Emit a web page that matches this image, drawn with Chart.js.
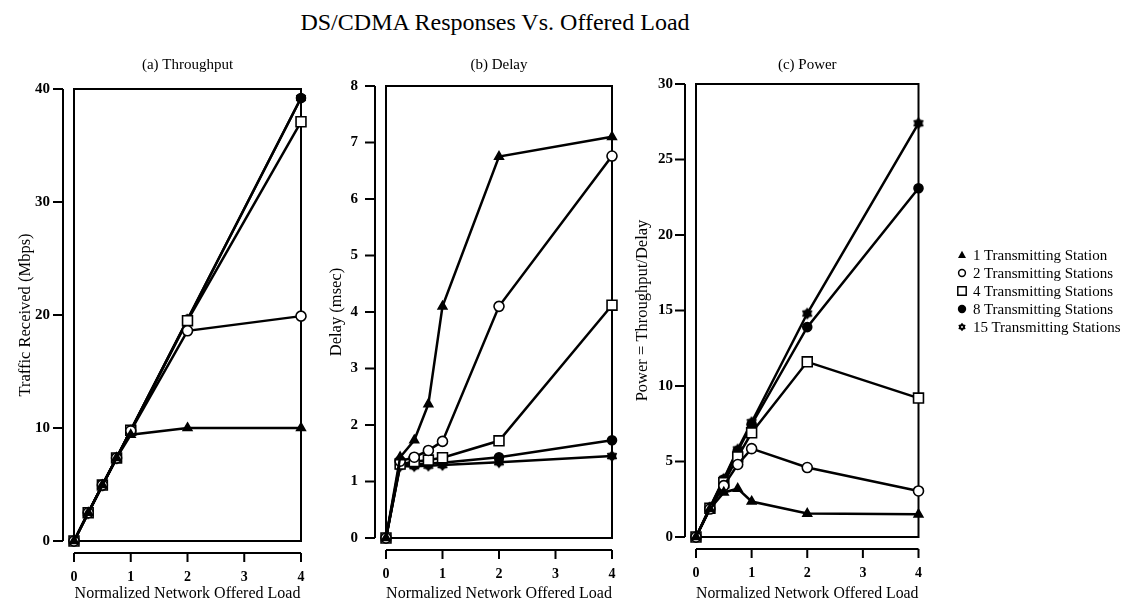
<!DOCTYPE html>
<html>
<head>
<meta charset="utf-8">
<script src="https://cdn.jsdelivr.net/npm/chart.js@4"></script>
<style>
body { margin: 0; background: #fff; width: 1138px; height: 603px; overflow: hidden; position: relative; font-family: "Liberation Serif", serif; color: #000; }
canvas.panel { position: absolute; top: 0; }
#title { position: absolute; left: 295px; width: 400px; top: 8px; text-align: center; font-size: 24px; line-height: 28px; white-space: nowrap; }
#legend { position: absolute; left: 956px; top: 246px; font-size: 15px; line-height: 18px; }
#legend div { height: 18px; white-space: nowrap; }
#legend canvas { vertical-align: -1px; margin-right: 5px; }
</style>
</head>
<body>
<div id="title">DS/CDMA Responses Vs. Offered Load</div>
<canvas class="panel" id="a" width="360" height="603" style="left:0px"></canvas>
<canvas class="panel" id="b" width="340" height="603" style="left:320px"></canvas>
<canvas class="panel" id="c" width="320" height="603" style="left:630px"></canvas>
<div id="legend"></div>
<script>
// offered load (x values) shared by all panels
var loads = [0, 0.25, 0.5, 0.75, 1, 2, 4];
var stations = ['1 Transmitting Station', '2 Transmitting Stations', '4 Transmitting Stations',
                '8 Transmitting Stations', '15 Transmitting Stations'];

// (a) throughput, Mbps
var thru1  = [0, 2.5, 4.95, 7.35, 9.4, 10.0, 10.0];
var thru2  = [0, 2.5, 4.95, 7.35, 9.75, 18.6, 19.9];
var thru4  = [0, 2.5, 4.95, 7.35, 9.8, 19.5, 37.1];
var thru8  = [0, 2.5, 4.95, 7.35, 9.8, 19.6, 39.2];
var thru15 = [0, 2.45, 4.9, 7.3, 9.8, 19.6, 39.2];

// (b) delay, msec
var delay1  = [0, 1.43, 1.73, 2.37, 4.1, 6.75, 7.1];
var delay2  = [0, 1.36, 1.43, 1.55, 1.71, 4.1, 6.76];
var delay4  = [0, 1.31, 1.35, 1.38, 1.42, 1.72, 4.12];
var delay8  = [0, 1.29, 1.3, 1.32, 1.33, 1.43, 1.73];
var delay15 = [0, 1.27, 1.27, 1.28, 1.29, 1.34, 1.45];

// (c) power = throughput / delay
var power1  = [0, 1.85, 2.95, 3.2, 2.35, 1.55, 1.5];
var power2  = [0, 1.85, 3.4, 4.8, 5.85, 4.6, 3.05];
var power4  = [0, 1.9, 3.6, 5.3, 6.9, 11.6, 9.2];
var power8  = [0, 1.95, 3.8, 5.7, 7.45, 13.9, 23.1];
var power15 = [0, 1.95, 3.85, 5.8, 7.6, 14.8, 27.4];

Chart.defaults.font.family = '"Liberation Serif", serif';
Chart.defaults.color = '#000';

function drawMarker(g, kind, cx, cy, r, hole) {
    g.fillStyle = '#000';
    g.strokeStyle = '#000';
    g.lineWidth = 1.5;
    g.beginPath();
    if (kind == 'triangle') {
        g.moveTo(cx, cy - r);
        g.lineTo(cx + r * 0.95, cy + r * 0.7);
        g.lineTo(cx - r * 0.95, cy + r * 0.7);
        g.closePath();
        g.fill();
    } else if (kind == 'circle') {
        g.arc(cx, cy, r - 0.8, 0, Math.PI * 2);
        g.stroke();
    } else if (kind == 'rect') {
        g.rect(cx - r + 0.8, cy - r + 0.8, 2 * r - 1.6, 2 * r - 1.6);
        g.stroke();
    } else if (kind == 'dot') {
        g.arc(cx, cy, r, 0, Math.PI * 2);
        g.fill();
    } else {
        for (var k = 0; k < 12; k++) {
            var ang = -Math.PI / 2 + k * Math.PI / 6;
            var rr = k % 2 ? r * 0.68 : r;
            g.lineTo(cx + rr * Math.cos(ang), cy + rr * Math.sin(ang));
        }
        g.closePath();
        g.fill();
        if (hole) {
            g.fillStyle = '#fff';
            g.beginPath();
            g.arc(cx, cy, r * 0.22, 0, Math.PI * 2);
            g.fill();
        }
    }
}

function starImage(r) {
    var c = document.createElement('canvas');
    c.width = c.height = 2 * r + 2;
    drawMarker(c.getContext('2d'), 'star', r + 1, r + 1, r, false);
    return c;
}

var star = starImage(6);
var markers = [
    {pointStyle: 'triangle', pointRadius: 5, pointBackgroundColor: '#000'},
    {pointStyle: 'circle', pointRadius: 5, pointBackgroundColor: '#fff'},
    {pointStyle: 'rect', pointRadius: 7, pointBackgroundColor: '#fff'},
    {pointStyle: 'circle', pointRadius: 4.5, pointBackgroundColor: '#000'},
    {pointStyle: star, pointRadius: 6, pointBackgroundColor: '#000'}
];
var legendKinds = ['triangle', 'circle', 'rect', 'dot', 'star'];

// box round the plot, axes drawn a little away from it
var frame = {
    id: 'frame',
    beforeDatasetsDraw: function (chart) {
        var ctx = chart.ctx, a = chart.chartArea, x = chart.scales.x, y = chart.scales.y;
        ctx.save();
        ctx.strokeStyle = '#000';
        ctx.lineWidth = 2;
        ctx.strokeRect(a.left, a.top, a.right - a.left, a.bottom - a.top);
        var ax = a.left - 11, ay = a.bottom + 12;
        ctx.beginPath();
        ctx.moveTo(ax, y.getPixelForValue(y.max));
        ctx.lineTo(ax, y.getPixelForValue(y.min));
        y.ticks.forEach(function (t) {
            var py = y.getPixelForValue(t.value);
            ctx.moveTo(ax, py);
            ctx.lineTo(ax - 10, py);
        });
        ctx.moveTo(x.getPixelForValue(x.min), ay);
        ctx.lineTo(x.getPixelForValue(x.max), ay);
        x.ticks.forEach(function (t) {
            var px = x.getPixelForValue(t.value);
            ctx.moveTo(px, ay);
            ctx.lineTo(px, ay + 9);
        });
        ctx.stroke();
        ctx.restore();
    }
};

function makePanel(id, p) {
    var datasets = p.series.map(function (vals, i) {
        var d = {
            label: stations[i],
            data: loads.map(function (x, j) { return {x: x, y: vals[j]}; }),
            borderColor: '#000',
            borderWidth: 2.5,
            pointBorderColor: '#000',
            pointBorderWidth: 1.6,
            tension: 0,
            clip: false
        };
        return Object.assign(d, markers[i]);
    });
    return new Chart(document.getElementById(id), {
        type: 'line',
        data: {datasets: datasets},
        plugins: [frame],
        options: {
            responsive: false,
            animation: false,
            events: [],
            layout: {padding: {top: 56, right: p.padRight, bottom: 0, left: 0}},
            plugins: {
                legend: {display: false},
                tooltip: {enabled: false},
                title: {
                    display: true,
                    text: p.title,
                    fullSize: false,
                    font: {size: 15, weight: 'normal'},
                    padding: {top: 0, bottom: p.top - 56 - 18}
                }
            },
            scales: {
                x: {
                    type: 'linear', min: 0, max: 4,
                    grid: {display: false, drawTicks: false},
                    border: {display: false},
                    ticks: {stepSize: 1, padding: 28, font: {size: 14, weight: 'bold'}},
                    title: {display: true, text: 'Normalized Network Offered Load',
                            font: {size: 16, weight: 'normal'}, padding: {top: 0, bottom: 0}},
                    afterFit: function (s) { s.height = 603 - p.bottom; }
                },
                y: {
                    min: 0, max: p.yMax,
                    grid: {display: false, drawTicks: false},
                    border: {display: false},
                    ticks: {stepSize: p.yStep, padding: p.yTickPad, font: {size: 15, weight: 'bold'}},
                    title: {display: true, text: p.yTitle,
                            font: {size: 16.5, weight: 'normal'}, padding: {top: p.yTitlePad, bottom: 0}},
                    afterFit: function (s) { s.width = p.yWidth; }
                }
            }
        }
    });
}

makePanel('a', {title: '(a) Throughput', yTitle: 'Traffic Received (Mbps)',
    series: [thru1, thru2, thru4, thru8, thru15], yMax: 40, yStep: 10,
    top: 89, bottom: 541, yWidth: 74, padRight: 59, yTickPad: 24, yTitlePad: 16});
makePanel('b', {title: '(b) Delay', yTitle: 'Delay (msec)',
    series: [delay1, delay2, delay4, delay8, delay15], yMax: 8, yStep: 1,
    top: 86, bottom: 538, yWidth: 66, padRight: 48, yTickPad: 28, yTitlePad: 7});
makePanel('c', {title: '(c) Power', yTitle: 'Power = Throughput/Delay',
    series: [power1, power2, power4, power8, power15], yMax: 30, yStep: 5,
    top: 84, bottom: 537, yWidth: 66, padRight: 27, yTickPad: 23, yTitlePad: 3});

// legend beside panel (c)
var legend = document.getElementById('legend');
stations.forEach(function (name, i) {
    var row = document.createElement('div');
    var c = document.createElement('canvas');
    c.width = 12; c.height = 12;
    drawMarker(c.getContext('2d'), legendKinds[i], 6, 6, i == 2 ? 5 : 4.2, true);
    row.appendChild(c);
    row.appendChild(document.createTextNode(name));
    legend.appendChild(row);
});
</script>
</body>
</html>
